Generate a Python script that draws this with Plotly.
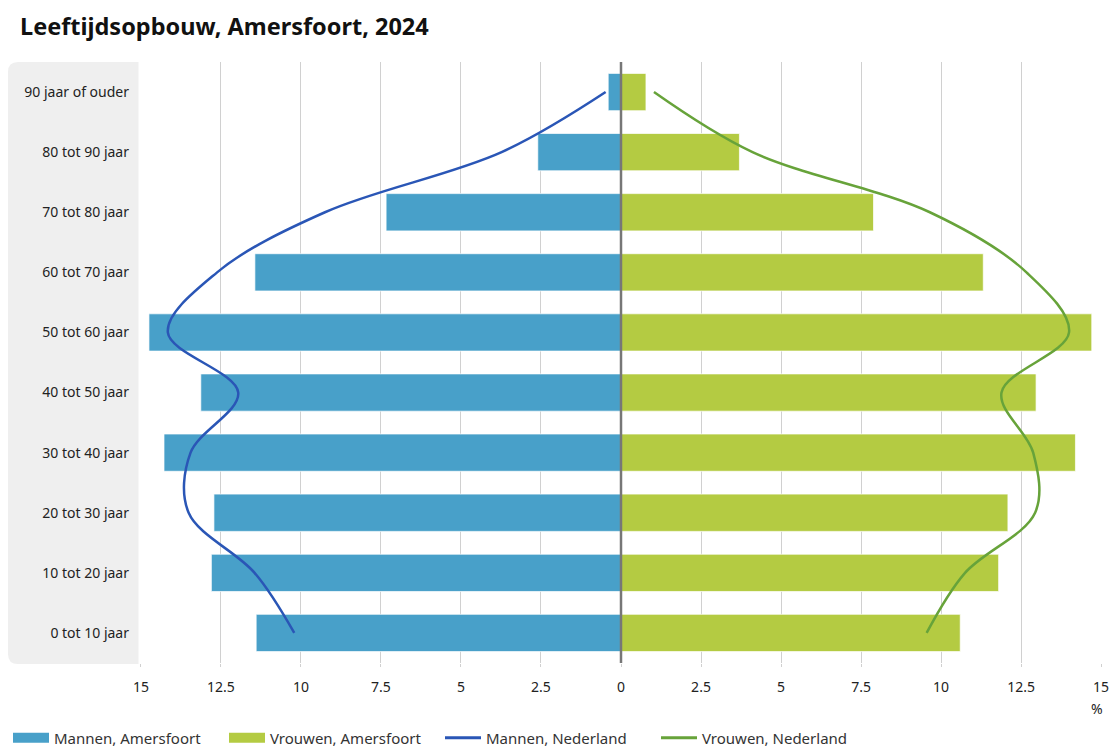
import plotly.graph_objects as go

categories = ["0 tot 10 jaar", "10 tot 20 jaar", "20 tot 30 jaar", "30 tot 40 jaar",
              "40 tot 50 jaar", "50 tot 60 jaar", "60 tot 70 jaar", "70 tot 80 jaar",
              "80 tot 90 jaar", "90 jaar of ouder"]

mannen_amersfoort = [11.40, 12.80, 12.72, 14.28, 13.13, 14.75, 11.44, 7.34, 2.60, 0.40]
vrouwen_amersfoort = [10.60, 11.80, 12.09, 14.20, 12.97, 14.71, 11.32, 7.89, 3.70, 0.78]
mannen_nederland = [10.21, 11.45, 13.51, 13.45, 11.96, 14.16, 12.62, 9.25, 3.73, 0.48]
vrouwen_nederland = [9.55, 10.75, 12.94, 12.88, 11.89, 14.00, 12.67, 9.65, 4.11, 1.03]

tick_values = [-15, -12.5, -10, -7.5, -5, -2.5, 0, 2.5, 5, 7.5, 10, 12.5, 15]
tick_labels = ["15", "12.5", "10", "7.5", "5", "2.5", "0", "2.5", "5", "7.5", "10", "12.5", "15"]

C_MAN_BAR = "#48a0c9"
C_WOMAN_BAR = "#b4cb42"
C_MAN_LINE = "#2a56b6"
C_WOMAN_LINE = "#67a33a"
FONT = "Noto Sans"

fig = go.Figure()

fig.add_trace(go.Bar(
    y=categories, x=[-v for v in mannen_amersfoort], orientation="h",
    marker=dict(color=C_MAN_BAR, line=dict(color="rgba(255,255,255,0.7)", width=1)),
    width=0.62, showlegend=False, name="Mannen, Amersfoort",
    customdata=mannen_amersfoort, hovertemplate="%{y}: %{customdata}%<extra>Mannen, Amersfoort</extra>"))
fig.add_trace(go.Bar(
    y=categories, x=vrouwen_amersfoort, orientation="h",
    marker=dict(color=C_WOMAN_BAR, line=dict(color="rgba(255,255,255,0.7)", width=1)),
    width=0.62, showlegend=False, name="Vrouwen, Amersfoort"))
fig.add_trace(go.Scatter(
    y=categories, x=[-v for v in mannen_nederland], mode="lines",
    line=dict(color=C_MAN_LINE, width=2.5, shape="spline", smoothing=1.0),
    showlegend=False, name="Mannen, Nederland"))
fig.add_trace(go.Scatter(
    y=categories, x=vrouwen_nederland, mode="lines",
    line=dict(color=C_WOMAN_LINE, width=2.5, shape="spline", smoothing=1.0),
    showlegend=False, name="Vrouwen, Nederland"))

# legend entries
for nm, col, w in [("Mannen, Amersfoort", C_MAN_BAR, 12), ("Vrouwen, Amersfoort", C_WOMAN_BAR, 12),
                   ("Mannen, Nederland", C_MAN_LINE, 3), ("Vrouwen, Nederland", C_WOMAN_LINE, 3)]:
    fig.add_trace(go.Scatter(x=[None], y=[None], mode="lines", name=nm,
                             line=dict(color=col, width=w), showlegend=True))

# page body has an 8px default margin: lay out in window pixels, shift by OFF
OFF = 8
W, H = 1120 - OFF, 752 - OFF
PL, PR, PT, PB = 140, 1102, 62, 663  # plot area in window pixels
L, R, T, B = PL - OFF, W - (PR - OFF), PT - OFF, H - (PB - OFF)
pw, ph = PR - PL, PB - PT

def px_x(p):
    return (p - PL) / pw

def px_y(p):
    return (PB - p) / ph

def cx(p):
    return (p - OFF) / W

def cy(p):
    return 1 - (p - OFF) / H

# grey label panel with rounded left corners
x0, x1 = px_x(8), px_x(138.5)
y0, y1 = px_y(664), px_y(62)
rx, ry = 10 / pw, 10 / ph
path = (f"M{x1},{y1} L{x0+rx},{y1} Q{x0},{y1} {x0},{y1-ry} L{x0},{y0+ry} "
        f"Q{x0},{y0} {x0+rx},{y0} L{x1},{y0} Z")

fig.update_layout(
    width=W, height=H,
    margin=dict(l=L, r=R, t=T, b=B, autoexpand=False),
    paper_bgcolor="white", plot_bgcolor="white",
    barmode="overlay",
    font=dict(family=FONT, size=14, color="#222222"),
    title=dict(text="<b>Leeftijdsopbouw, Amersfoort, 2024</b>", x=cx(20), xanchor="left",
               y=cy(27), yanchor="middle",
               font=dict(family=FONT, size=23.5, color="#111111")),
    xaxis=dict(range=[-15.03, 15.03], tickvals=tick_values, ticktext=tick_labels,
               showgrid=True, gridcolor="#d0d0d0", gridwidth=1, zeroline=False,
               ticks="outside", ticklen=3, tickcolor="#d0d0d0", ticklabelstandoff=8,
               showline=False, fixedrange=True,
               tickfont=dict(family=FONT, size=14, color="#222222")),
    yaxis=dict(type="category", categoryorder="array", categoryarray=categories,
               range=[-0.5, 9.5], showgrid=False, zeroline=False, ticks="",
               ticklabelstandoff=10, showline=False,
               tickfont=dict(family=FONT, size=14, color="#222222")),
    legend=dict(orientation="h", xref="container", yref="container",
                x=cx(2), xanchor="left", y=cy(738), yanchor="middle",
                entrywidth=165, entrywidthmode="pixels", itemwidth=36,
                font=dict(family=FONT, size=15, color="#333333"), bgcolor="rgba(0,0,0,0)",
                traceorder="normal"),
    shapes=[
        dict(type="path", path=path, xref="paper", yref="paper", fillcolor="#efefef",
             line=dict(width=0), layer="below"),
        dict(type="line", x0=0, x1=0, y0=0, y1=1, xref="x", yref="paper",
             line=dict(color="#777777", width=2.5), layer="above"),
    ],
    annotations=[
        dict(text="%", x=px_x(1097), y=px_y(708), xref="paper", yref="paper",
             showarrow=False, xanchor="center", yanchor="middle",
             font=dict(family=FONT, size=14, color="#222222")),
    ],
)

fig.write_html("out.html")
